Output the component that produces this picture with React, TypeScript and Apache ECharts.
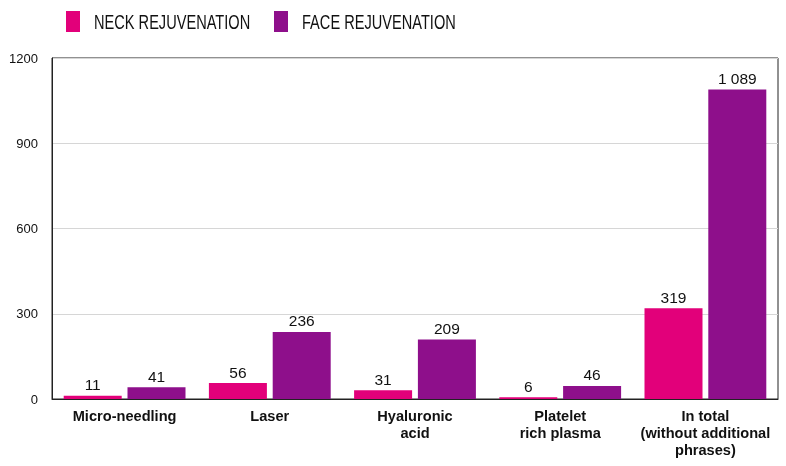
import React, { useEffect, useRef } from "react";
import * as echarts from "echarts";

const categories = [
  "Micro-needling",
  "Laser",
  "Hyaluronic\nacid",
  "Platelet\nrich plasma",
  "In total\n(without additional\nphrases)",
];
const neckValues = [11, 56, 31, 6, 319];
const faceValues = [41, 236, 209, 46, 1089];
const seriesNames = ["NECK REJUVENATION", "FACE REJUVENATION"];
const colors = ["#e2007a", "#8e0f8b"];

const fmt = (v: number) => {
  const s = String(v);
  return s.length > 3 ? s.slice(0, s.length - 3) + " " + s.slice(-3) : s;
};

export default function App() {
  const ref = useRef<HTMLDivElement>(null);
  useEffect(() => {
    if (!ref.current) return;
    const chart = echarts.init(ref.current, undefined, { renderer: "svg" });
    const labelCfg = {
      show: true,
      position: "top",
      distance: 3,
      color: "#111",
      fontSize: 15.5,
      fontFamily: "Liberation Sans, Arial, sans-serif",
      formatter: (p: any) => fmt(p.value),
    };
    const legendItem = (i: number, x: number) => ({
      type: "group",
      children: [
        {
          type: "rect",
          shape: { x, y: 11, width: 14, height: 21 },
          style: { fill: colors[i] },
        },
        {
          type: "text",
          x: x + 28,
          y: 22,
          scaleX: 0.73,
          style: {
            text: seriesNames[i],
            fontSize: 20,
            fill: "#111",
            fontFamily: "Liberation Sans, Arial, sans-serif",
            verticalAlign: "middle",
            align: "left",
          },
        },
      ],
    });
    chart.setOption({
      animation: false,
      textStyle: { fontFamily: "Liberation Sans, Arial, sans-serif" },
      graphic: [legendItem(0, 66), legendItem(1, 274)],
      grid: {
        left: 52,
        right: 8,
        top: 58,
        bottom: 67,
        show: true,
        borderColor: "#222",
        borderWidth: 1,
        backgroundColor: "transparent",
      },
      xAxis: {
        type: "category",
        data: categories,
        axisLine: { show: true, lineStyle: { color: "#222", width: 1 } },
        axisTick: { show: false },
        axisLabel: {
          interval: 0,
          margin: 8,
          fontSize: 14.6,
          fontWeight: "bold",
          color: "#111",
          lineHeight: 17,
        },
      },
      yAxis: {
        type: "value",
        min: 0,
        max: 1200,
        interval: 300,
        axisLine: { show: true, lineStyle: { color: "#222", width: 1 } },
        axisTick: { show: false },
        axisLabel: {
          fontSize: 13,
          color: "#111",
          margin: 14,
          formatter: (v: number) => String(v),
        },
        splitLine: { lineStyle: { color: "#d6d6d6", width: 1 } },
      },
      series: [
        {
          name: seriesNames[0],
          type: "bar",
          data: neckValues,
          barWidth: 58,
          barGap: "10%",
          itemStyle: { color: colors[0] },
          label: labelCfg,
        },
        {
          name: seriesNames[1],
          type: "bar",
          data: faceValues,
          barWidth: 58,
          barGap: "10%",
          itemStyle: { color: colors[1] },
          label: labelCfg,
        },
      ],
    });
    return () => chart.dispose();
  }, []);
  return (
    <div
      ref={ref}
      style={{ position: "fixed", left: 0, top: 0, width: 786, height: 466 }}
    />
  );
}
